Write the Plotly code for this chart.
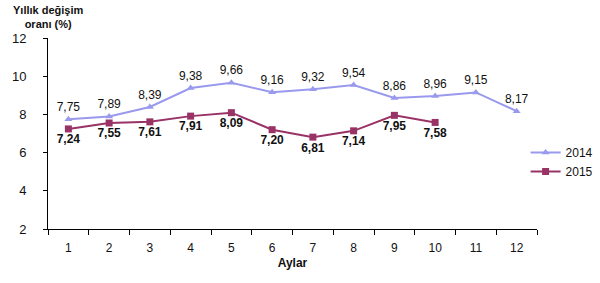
import plotly.graph_objects as go

months = ["1", "2", "3", "4", "5", "6", "7", "8", "9", "10", "11", "12"]
y2014 = [7.75, 7.89, 8.39, 9.38, 9.66, 9.16, 9.32, 9.54, 8.86, 8.96, 9.15, 8.17]
y2015 = [7.24, 7.55, 7.61, 7.91, 8.09, 7.20, 6.81, 7.14, 7.95, 7.58]
yticks = [2, 4, 6, 8, 10, 12]

def lab(v):
    return f"{v:.2f}".replace(".", ",")

font = "Liberation Sans, Arial, sans-serif"

fig = go.Figure()
fig.add_trace(go.Scatter(
    x=months, y=y2014, name="2014", mode="lines+markers+text",
    line=dict(color="#9999EE", width=2),
    marker=dict(symbol="triangle-up", size=7, color="#9999EE"),
    text=[lab(v) for v in y2014], textposition="top center",
    textfont=dict(family=font, size=12, color="#111111"),
))
fig.add_trace(go.Scatter(
    x=months[:len(y2015)], y=y2015, name="2015", mode="lines+markers+text",
    line=dict(color="#993366", width=2),
    marker=dict(symbol="square", size=7, color="#993366"),
    text=["<b>" + lab(v) + "</b>" for v in y2015], textposition="bottom center",
    textfont=dict(family=font, size=12, color="#111111"),
))

fig.update_layout(
    width=600, height=283,
    margin=dict(l=48, r=63, t=38, b=54, autoexpand=False),
    paper_bgcolor="white", plot_bgcolor="white",
    font=dict(family=font, size=11, color="#111111"),
    showlegend=True,
    legend=dict(xref="container", yref="container", x=0.876, y=0.428,
                xanchor="left", yanchor="middle", itemwidth=30,
                font=dict(family=font, size=12), bgcolor="rgba(0,0,0,0)",
                tracegroupgap=4),
    xaxis=dict(
        type="category", categoryorder="array", categoryarray=months,
        range=[-0.5, 11.5], tickson="boundaries",
        showline=True, linecolor="black", linewidth=1,
        ticks="outside", ticklen=5, tickcolor="black",
        showgrid=False, zeroline=False, ticklabelstandoff=8,
        tickfont=dict(family=font, size=12),
        title=dict(text="<b>Aylar</b>", font=dict(family=font, size=12), standoff=4),
    ),
    yaxis=dict(
        range=[2, 12], tickvals=yticks, ticktext=[str(t) for t in yticks],
        showline=True, linecolor="black", linewidth=1,
        ticks="outside", ticklen=4, tickcolor="black",
        showgrid=False, zeroline=False, ticklabelstandoff=14,
        tickfont=dict(family=font, size=13),
    ),
    annotations=[dict(
        text="<b>Yıllık değişim<br>oranı (%)</b>", xref="paper", yref="paper",
        x=-0.0, y=1.0, xanchor="center", yanchor="bottom", yshift=6,
        showarrow=False, align="center", font=dict(family=font, size=11),
    )],
)

fig.write_html("out.html")
